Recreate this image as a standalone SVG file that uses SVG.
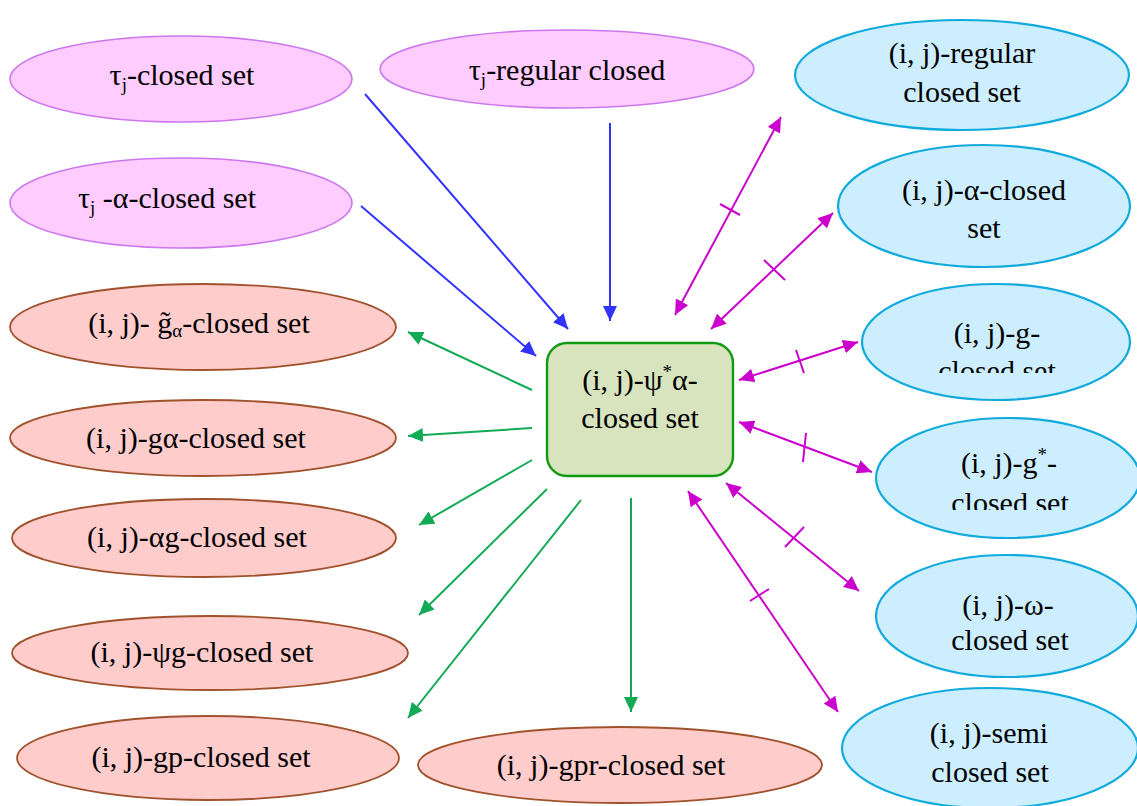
<svg xmlns="http://www.w3.org/2000/svg" width="1137" height="806" viewBox="0 0 1137 806" font-family="Liberation Serif, serif" font-size="30">
<style>
text{fill:#000;text-anchor:middle}
.sub{font-size:19px}
.sup{font-size:19px}
.pink{fill:#ffccff;stroke:#cc77ee;stroke-width:1.6}
.blue{fill:#cceeff;stroke:#11aadd;stroke-width:2.2}
.red{fill:#ffcccc;stroke:#a0522d;stroke-width:1.8}
.box{fill:#d7e4bd;stroke:#119911;stroke-width:2.4}
.bl{stroke:#3333ff;stroke-width:2;fill:none;marker-end:url(#ab)}
.gr{stroke:#11aa55;stroke-width:2;fill:none;marker-end:url(#ag)}
.mg{stroke:#cc00cc;stroke-width:2;fill:none;marker-end:url(#am);marker-start:url(#am)}
.tk{stroke:#cc00cc;stroke-width:2;fill:none}
</style>
<defs>
<marker id="ab" markerUnits="userSpaceOnUse" markerWidth="16" markerHeight="14" refX="15" refY="7" orient="auto-start-reverse"><path d="M0,0 L15,7 L0,14 z" fill="#3333ff"/></marker>
<marker id="ag" markerUnits="userSpaceOnUse" markerWidth="16" markerHeight="14" refX="15" refY="7" orient="auto-start-reverse"><path d="M0,0 L15,7 L0,14 z" fill="#11aa55"/></marker>
<marker id="am" markerUnits="userSpaceOnUse" markerWidth="16" markerHeight="14" refX="15" refY="7" orient="auto-start-reverse"><path d="M0,0 L15,7 L0,14 z" fill="#cc00cc"/></marker>
<clipPath id="cg"><rect x="850" y="280" width="290" height="93"/></clipPath>
<clipPath id="cgs"><rect x="850" y="410" width="290" height="100"/></clipPath>
<clipPath id="cw"><rect x="850" y="550" width="290" height="101"/></clipPath>
</defs>

<g id="n-tj-closed"><ellipse class="pink" cx="181" cy="79" rx="171" ry="43"/><text x="182" y="85">τ<tspan class="sub" dy="6">j</tspan><tspan dy="-6">-closed set</tspan></text></g>
<g id="n-tj-alpha"><ellipse class="pink" cx="181" cy="203" rx="171" ry="45"/><text x="167" y="208">τ<tspan class="sub" dy="6">j</tspan><tspan dy="-6"> -α-closed set</tspan></text></g>
<g id="n-tj-regular"><ellipse class="pink" cx="567" cy="69" rx="187" ry="39"/><text x="567" y="80">τ<tspan class="sub" dy="6">j</tspan><tspan dy="-6">-regular closed</tspan></text></g>

<g id="n-regular"><ellipse class="blue" cx="962" cy="75" rx="167" ry="55"/><text x="962" y="63">(i, j)-regular</text><text x="962" y="102">closed set</text></g>
<g id="n-alpha"><ellipse class="blue" cx="984" cy="206" rx="146" ry="61"/><text x="984" y="200">(i, j)-α-closed</text><text x="984" y="238">set</text></g>
<g id="n-g"><ellipse class="blue" cx="996" cy="342" rx="134" ry="58"/><text x="997" y="343">(i, j)-g-</text><text x="997" y="381" clip-path="url(#cg)">closed set</text></g>
<g id="n-gstar"><ellipse class="blue" cx="1008" cy="478" rx="132" ry="60"/><text x="1009" y="473">(i, j)-g<tspan class="sup" dy="-12">*</tspan><tspan dy="12">-</tspan></text><text x="1010" y="513" clip-path="url(#cgs)">closed set</text></g>
<g id="n-omega"><ellipse class="blue" cx="1007" cy="616" rx="131" ry="61"/><text x="1008" y="615">(i, j)-ω-</text><text x="1010" y="650" clip-path="url(#cw)">closed set</text></g>
<g id="n-semi"><ellipse class="blue" cx="990" cy="748" rx="148" ry="60"/><text x="989" y="743">(i, j)-semi</text><text x="990" y="782">closed set</text></g>

<g id="n-gtilde"><ellipse class="red" cx="203" cy="327" rx="193" ry="43"/><text x="199" y="333">(i, j)- g̃<tspan class="sub" dy="4">α</tspan><tspan dy="-4">-closed set</tspan></text></g>
<g id="n-galpha"><ellipse class="red" cx="203" cy="438" rx="193" ry="38"/><text x="196" y="448">(i, j)-gα-closed set</text></g>
<g id="n-alphag"><ellipse class="red" cx="204" cy="538" rx="192" ry="39"/><text x="197" y="547">(i, j)-αg-closed set</text></g>
<g id="n-psig"><ellipse class="red" cx="210" cy="653" rx="198" ry="37"/><text x="202" y="662">(i, j)-ψg-closed set</text></g>
<g id="n-gp"><ellipse class="red" cx="208" cy="758" rx="191" ry="42"/><text x="201" y="767">(i, j)-gp-closed set</text></g>
<g id="n-gpr"><ellipse class="red" cx="620" cy="765" rx="202" ry="38"/><text x="611" y="775">(i, j)-gpr-closed set</text></g>

<g id="n-center"><rect class="box" x="547" y="343" width="186" height="133" rx="20" ry="20"/><text x="640" y="390">(i, j)-ψ<tspan class="sup" dy="-12">*</tspan><tspan dy="12">α-</tspan></text><text x="640" y="428">closed set</text></g>

<g id="connectors">
<line class="bl" x1="365" y1="94" x2="568" y2="329"/>
<line class="bl" x1="361" y1="206" x2="536" y2="356"/>
<line class="bl" x1="610" y1="123" x2="610" y2="321"/>

<line class="gr" x1="532" y1="390" x2="408" y2="332"/>
<line class="gr" x1="532" y1="428" x2="408" y2="436"/>
<line class="gr" x1="532" y1="460" x2="419" y2="525"/>
<line class="gr" x1="547" y1="489" x2="419" y2="615"/>
<line class="gr" x1="581" y1="500" x2="408" y2="718"/>
<line class="gr" x1="631" y1="498" x2="631" y2="712"/>

<line class="mg" x1="675" y1="315" x2="781" y2="117"/>
<line class="tk" x1="720" y1="204" x2="740" y2="215"/>
<line class="mg" x1="711" y1="329" x2="833" y2="213"/>
<line class="tk" x1="764" y1="260" x2="785" y2="280"/>
<line class="mg" x1="739" y1="380" x2="858" y2="342"/>
<line class="tk" x1="796" y1="350" x2="804" y2="373"/>
<line class="mg" x1="739" y1="422" x2="872" y2="472"/>
<line class="tk" x1="806" y1="433" x2="803" y2="462"/>
<line class="mg" x1="726" y1="483" x2="859" y2="591"/>
<line class="tk" x1="785" y1="547" x2="804" y2="527"/>
<line class="mg" x1="688" y1="491" x2="838" y2="712"/>
<line class="tk" x1="750" y1="601" x2="769" y2="589"/>
</g>
</svg>
